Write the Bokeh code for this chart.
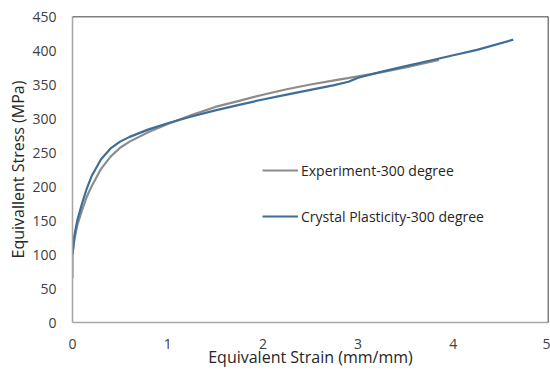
from bokeh.plotting import figure
from bokeh.models import Span, Legend, LegendItem, FixedTicker
from bokeh.embed import file_html
from bokeh.resources import INLINE

exp_strain = [0, 0, 0.02, 0.05, 0.1, 0.15, 0.2, 0.3, 0.4, 0.5, 0.6, 0.8, 1.0, 1.25, 1.5, 1.75, 2.0, 2.25, 2.5, 2.75, 3.0, 3.25, 3.5, 3.85]
exp_stress = [65, 100, 122, 143, 165, 185, 200, 226, 244, 257, 266, 280, 292, 305, 317, 326, 335, 343, 350, 356, 362, 368, 375, 386]

cp_strain = [0, 0.02, 0.05, 0.1, 0.15, 0.2, 0.3, 0.4, 0.5, 0.6, 0.8, 1.0, 1.25, 1.5, 1.75, 2.0, 2.25, 2.5, 2.75, 2.9, 3.0, 3.25, 3.5, 3.75, 4.0, 4.25, 4.63]
cp_stress = [100, 128, 150, 175, 197, 215, 240, 256, 266, 273, 284, 293, 303, 312, 320, 328, 335, 342, 349, 354, 360, 369, 377, 385, 393, 401, 416]

x_ticks = [0, 1, 2, 3, 4, 5]
y_ticks = [0, 50, 100, 150, 200, 250, 300, 350, 400, 450]

FONT = "Open Sans"

p = figure(width=550, height=372, output_backend="svg", toolbar_location=None,
           x_range=(0, 5), y_range=(0, 450),
           min_border_left=72, min_border_right=2, min_border_top=16, min_border_bottom=50)
p.outline_line_color = None
p.grid.visible = False
p.background_fill_color = "white"

p.xaxis.ticker = FixedTicker(ticks=x_ticks)
p.yaxis.ticker = FixedTicker(ticks=y_ticks)
for ax in (p.xaxis, p.yaxis):
    ax.axis_line_color = "#a6a6a6"
    ax.axis_line_width = 1.5
    ax.major_tick_line_color = None
    ax.minor_tick_line_color = None
    ax.major_label_text_font = FONT
    ax.major_label_text_font_size = "14px"
    ax.major_label_text_color = "#404040"
    ax.axis_label_text_font = FONT
    ax.axis_label_text_font_size = "16px"
    ax.axis_label_text_font_style = "normal"
    ax.axis_label_text_color = "#262626"

p.xaxis.axis_label = "Equivalent Strain (mm/mm)"
p.yaxis.axis_label = "Equivallent Stress (MPa)"
p.xaxis.major_label_standoff = 10
p.yaxis.major_label_standoff = 10
p.xaxis.axis_label_standoff = -6
p.yaxis.axis_label_standoff = 0

p.add_layout(Span(location=450, dimension="width", line_color="black", line_width=1.5))
p.add_layout(Span(location=5, dimension="height", line_color="black", line_width=1.5))

r1 = p.line(exp_strain, exp_stress, line_color="#8c8c8c", line_width=2.2)
r2 = p.line(cp_strain, cp_stress, line_color="#3c6e97", line_width=2.2)

legend = Legend(items=[LegendItem(label="Experiment-300 degree", renderers=[r1]),
                       LegendItem(label="Crystal Plasticity-300 degree", renderers=[r2])],
                location=(190, 96))
legend.border_line_color = None
legend.background_fill_alpha = 0
legend.label_text_font = FONT
legend.label_text_font_size = "14px"
legend.label_text_color = "#262626"
legend.spacing = 26
legend.glyph_width = 36
legend.label_standoff = 3
p.add_layout(legend, "center")

open("out.html", "w").write(file_html(p, INLINE))
